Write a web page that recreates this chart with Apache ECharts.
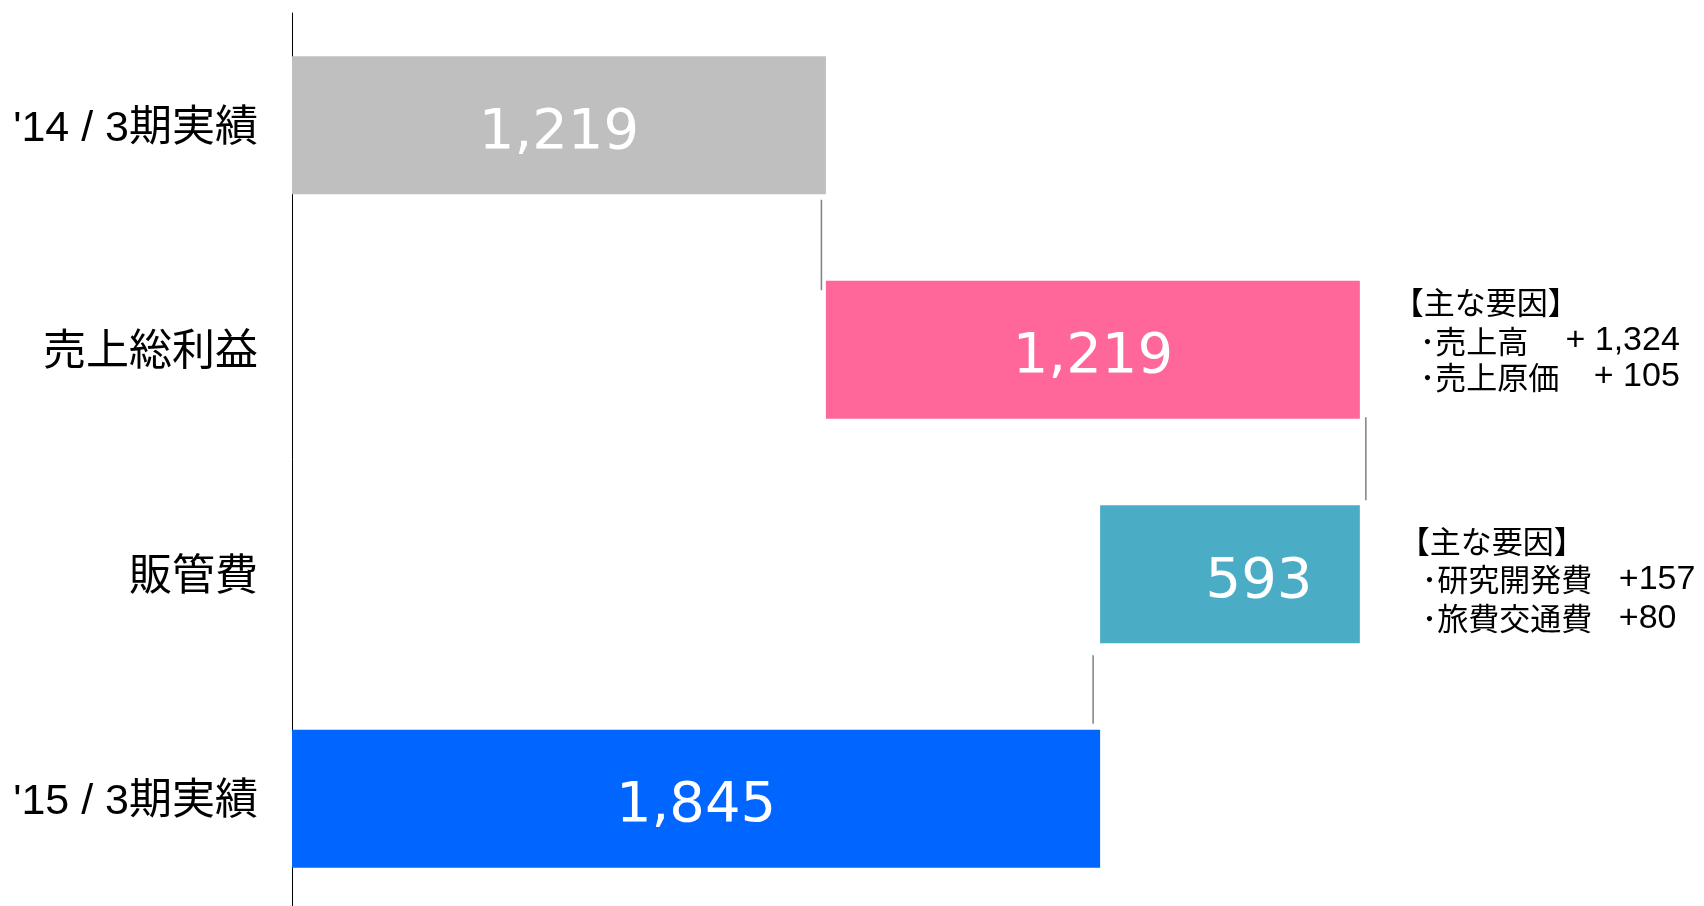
<!DOCTYPE html>
<html>
<head>
<meta charset="utf-8">
<script src="https://cdn.jsdelivr.net/npm/echarts@6/dist/echarts.min.js"></script>
<style>
  html, body { margin: 0; padding: 0; background: #ffffff; }
  #chart { width: 1704px; height: 906px; }
</style>
</head>
<body>
<div id="chart"></div>
<script>
// rows, top to bottom
var categories = ["'14 / 3期実績", "売上総利益", "販管費", "'15 / 3期実績"];
// invisible part of each waterfall bar
var barBase = [0, 1219, 1845, 0];
// visible part of each bar (also the label)
var barValues = [1219, 1219, 593, 1845];
// x value where the thin link between row i and row i+1 sits
var linkValues = [1219, 2438, 1845];

// notes to the right of rows 1 and 2
var noteRows = [1, 2];
var noteTitle = '【主な要因】';
var noteNames = [['売上高', '売上原価'], ['研究開発費', '旅費交通費']];
var noteAmounts = [['+ 1,324', '+ 105'], ['+157', '+80']];

var barColors = ['#BFBFBF', '#FF6699', '#4BACC6', '#0066FF'];
var BAR_RATIO = 0.615;
var CJK = '"Noto Sans CJK JP"';

// small pixel nudges so the links look like the hand drawn ones
var linkNudge = [[-4.5, 5.5, 9.5], [6, -1.5, -5], [-7, 12, -6]];
// per note: title x, dot x, amount x, amount align, row y offsets
var noteLayout = [
  {titleX: 33, dotX: 60, amountX: 320, amountAlign: 'right', rowY: [-48, -9, 27]},
  {titleX: 39, dotX: 62, amountX: 259, amountAlign: 'left', rowY: [-33, 5, 44]}
];

var chart = echarts.init(document.getElementById('chart'));

var option = {
  animation: false,
  backgroundColor: '#ffffff',
  grid: {left: 292, right: 98, top: 13, height: 898, containLabel: false, outerBoundsMode: 'none'},
  xAxis: {
    type: 'value', min: 0, max: 3000, show: false,
    splitLine: {show: false}
  },
  yAxis: {
    type: 'category',
    inverse: true,
    data: categories,
    axisLine: {show: true, lineStyle: {color: '#000000', width: 1}},
    axisTick: {show: false},
    axisLabel: {
      margin: 34,
      formatter: function (v) {
        return '{t|' + v + '}';
      },
      rich: {
        t: {
          color: '#000000',
          fontSize: 43,
          padding: [7, 0, 0, 0],
          fontFamily: '"Liberation Sans", ' + CJK
        }
      }
    }
  },
  series: [
    {
      name: 'base',
      type: 'bar',
      stack: 'w',
      barWidth: (BAR_RATIO * 100) + '%',
      itemStyle: {color: 'transparent'},
      emphasis: {disabled: true},
      data: barBase
    },
    {
      name: 'value',
      type: 'bar',
      stack: 'w',
      barWidth: (BAR_RATIO * 100) + '%',
      data: barValues.map(function (v, i) {
        var d = {value: v, itemStyle: {color: barColors[i]}};
        if (i === 2) {
          d.label = {offset: [29, 8]};
        }
        return d;
      }),
      label: {
        show: true,
        position: 'inside',
        offset: [0, 8],
        color: '#ffffff',
        fontSize: 56,
        fontFamily: '"DejaVu Sans"',
        formatter: function (p) {
          return p.value.toLocaleString('en-US');
        }
      }
    },
    {
      name: 'links',
      type: 'custom',
      silent: true,
      renderItem: function (params, api) {
        var i = api.value(1);
        var x = api.coord([api.value(0), i])[0];
        var half = api.size([0, 1])[1] * BAR_RATIO / 2;
        var yTop = api.coord([0, i])[1] + half;
        var yBot = api.coord([0, i + 1])[1] - half;
        var n = linkNudge[params.dataIndex];
        return {
          type: 'line',
          shape: {x1: x + n[0], y1: yTop + n[1], x2: x + n[0], y2: yBot + n[2]},
          style: {stroke: '#808080', lineWidth: 1.5}
        };
      },
      data: linkValues.map(function (v, i) { return [v, i]; })
    },
    {
      name: 'notes',
      type: 'custom',
      silent: true,
      renderItem: function (params, api) {
        var k = params.dataIndex;
        var p = api.coord([api.value(0), api.value(1)]);
        var L = noteLayout[k];
        var kids = [{
          type: 'text',
          x: p[0] + L.titleX,
          y: p[1] + L.rowY[0],
          style: {text: noteTitle, fill: '#000', font: '31px ' + CJK, align: 'left', verticalAlign: 'middle'}
        }];
        noteNames[k].forEach(function (name, j) {
          var y = p[1] + L.rowY[j + 1];
          kids.push({
            type: 'text', x: p[0] + L.dotX, y: y,
            style: {text: '･' + name, fill: '#000', font: '31px ' + CJK, align: 'left', verticalAlign: 'middle'}
          });
          kids.push({
            type: 'text', x: p[0] + L.amountX, y: y,
            style: {text: noteAmounts[k][j], fill: '#000', font: '34px "Liberation Sans"', align: L.amountAlign, verticalAlign: 'middle'}
          });
        });
        return {type: 'group', children: kids};
      },
      data: noteRows.map(function (r) { return [barBase[r] + barValues[r], r]; })
    }
  ]
};

chart.setOption(option);
</script>
</body>
</html>
